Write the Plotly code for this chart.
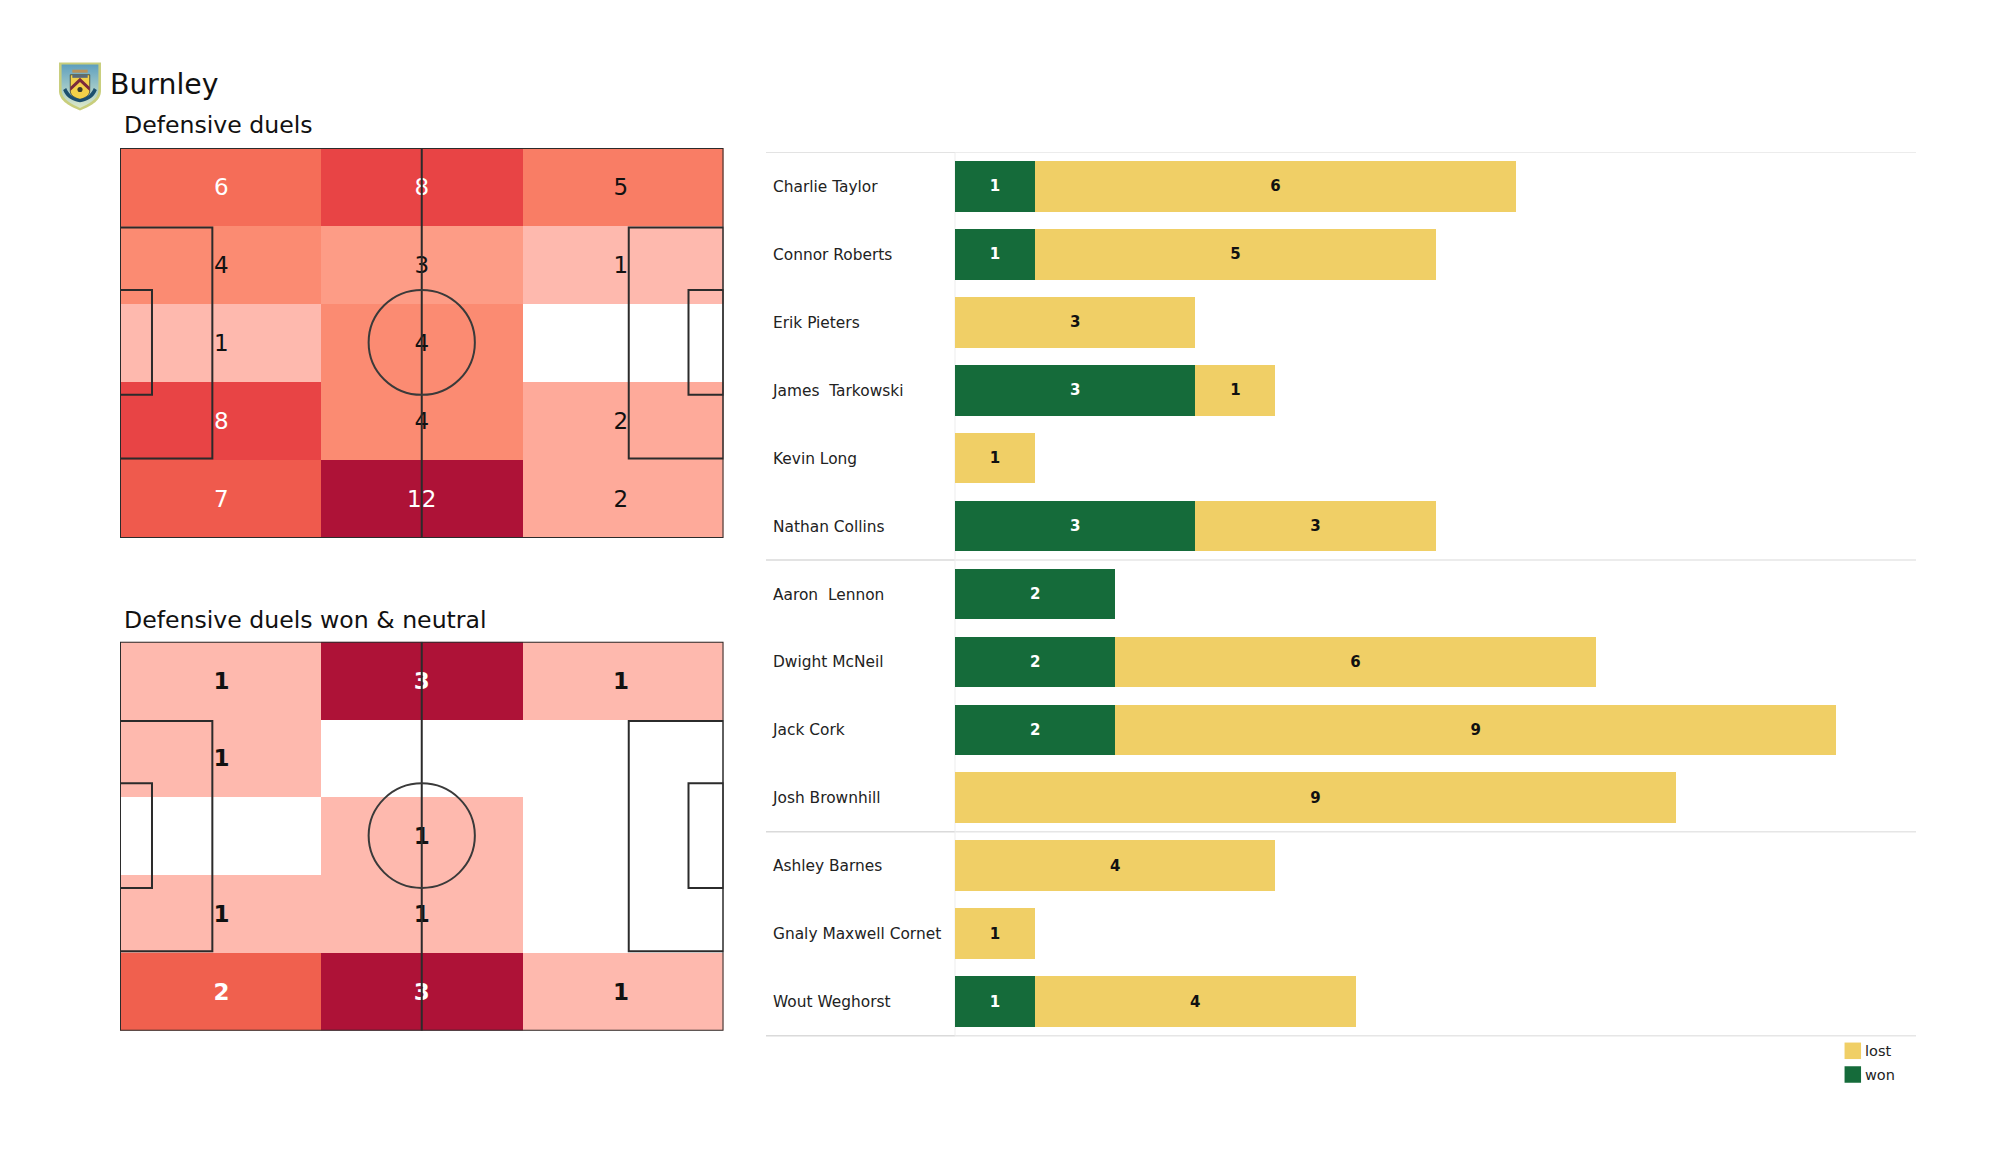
import base64
import plotly.graph_objects as go

W, H = 2000, 1175

# ---------- data ----------
players = ["Charlie Taylor", "Connor Roberts", "Erik Pieters", "James  Tarkowski", "Kevin Long",
           "Nathan Collins", "Aaron  Lennon", "Dwight McNeil", "Jack Cork", "Josh Brownhill",
           "Ashley Barnes", "Gnaly Maxwell Cornet", "Wout Weghorst"]
won = [1, 1, None, 3, None, 3, 2, 2, 2, None, None, None, 1]
lost = [6, 5, 3, 1, 1, 3, None, 6, 9, 9, 4, 1, 4]
duels = [[6, 8, 5], [4, 3, 1], [1, 4, 0], [8, 4, 2], [7, 12, 2]]
duels_won = [[1, 3, 1], [1, 0, 0], [0, 1, 0], [1, 1, 0], [2, 3, 1]]
separators_after = [-1, 5, 9, 12]

GOLD, GREEN = "#F0CF66", "#156B3A"
LINE = "#2b2b2b"
FONT = "DejaVu Sans"


def fx(px):
    return px / W


def fy(py):
    return 1 - py / H


scale1 = [[0, "#FFFFFF"], [1/12, "#FEB9AE"], [2/12, "#FEAA9A"], [3/12, "#FD9C86"], [4/12, "#FB8B72"],
          [5/12, "#F97D65"], [6/12, "#F56D58"], [7/12, "#EF5A4D"], [8/12, "#E84445"], [1, "#AE1237"]]
scale2 = [[0, "#FFFFFF"], [1/3, "#FEB9AE"], [2/3, "#F0604E"], [1, "#AE1237"]]

fig = go.Figure()

# ---------- pitches ----------
x_edges = [0, 33.4, 66.4, 100]
y_edges = [0, 20, 40, 60, 80, 100]
x_mid = [16.8, 50, 83.0]
y_mid = [10.6, 30.6, 50.6, 70.6, 90.6]


def pitch(z, scale, zmax, xa, ya, white_from, bold):
    fig.add_trace(go.Heatmap(z=z, x=x_edges, y=y_edges, colorscale=scale, zmin=0, zmax=zmax,
                             showscale=False, hoverinfo="skip", xaxis=xa, yaxis=ya))
    xs, ys, ts, cs = [], [], [], []
    for r, row in enumerate(z):
        for c, v in enumerate(row):
            if v:
                xs.append(x_mid[c]); ys.append(y_mid[r]); ts.append(str(v))
                cs.append("#FFFFFF" if v >= white_from else "#111111")
    fig.add_trace(go.Scatter(x=xs, y=ys, text=ts, mode="text", textposition="middle center",
                             textfont=dict(family=FONT, size=23, color=cs,
                                           weight="bold" if bold else "normal"),
                             xaxis=xa, yaxis=ya, hoverinfo="skip", showlegend=False))
    ln = dict(color=LINE, width=2)
    rects = [(0, 0, 100, 100), (0, 20.4, 15.3, 79.6), (84.3, 20.4, 100, 79.6),
             (0, 36.4, 5.3, 63.3), (94.2, 36.4, 100, 63.3)]
    for x0, y0, x1, y1 in rects:
        fig.add_shape(type="rect", x0=x0, y0=y0, x1=x1, y1=y1, xref=xa, yref=ya, line=ln, layer="above")
    fig.add_shape(type="line", x0=50, x1=50, y0=0, y1=100, xref=xa, yref=ya, line=ln, layer="above")
    fig.add_shape(type="circle", x0=41.2, x1=58.8, y0=36.4, y1=63.3, xref=xa, yref=ya,
                  line=dict(color="#3a3a3a", width=2), layer="above")


pitch(duels, scale1, 12, "x", "y", 6, False)
pitch(duels_won, scale2, 3, "x2", "y2", 2, True)

# ---------- bars ----------
rows = list(range(len(players)))
fig.add_trace(go.Bar(y=rows, x=won, name="won", orientation="h", width=0.747, marker=dict(color=GREEN, line_width=0),
                     text=won, textposition="inside", insidetextanchor="middle", textangle=0,
                     constraintext="none",
                     insidetextfont=dict(family=FONT, size=15, color="#FFFFFF", weight="bold"),
                     xaxis="x3", yaxis="y3", showlegend=False))
fig.add_trace(go.Bar(y=rows, x=lost, name="lost", orientation="h", width=0.747, marker=dict(color=GOLD, line_width=0),
                     text=lost, textposition="inside", insidetextanchor="middle", textangle=0,
                     constraintext="none",
                     insidetextfont=dict(family=FONT, size=15, color="#111111", weight="bold"),
                     xaxis="x3", yaxis="y3", showlegend=False))

X0, UNIT = 955, 80.1
ROW_TOP, ROW = 152.3, 67.95
x_at = lambda px: (px - X0) / UNIT
y_at = lambda py: (py - ROW_TOP) / ROW - 0.5

# player names, left aligned
fig.add_trace(go.Scatter(x=[x_at(773)] * len(players), y=[r + 0.025 for r in rows], text=players, mode="text",
                         textposition="middle right", cliponaxis=False,
                         textfont=dict(family=FONT, size=15.4, color="#222222"),
                         xaxis="x3", yaxis="y3", hoverinfo="skip", showlegend=False))

# separators
for s in separators_after:
    fig.add_shape(type="line", xref="x3", yref="y3", x0=x_at(766), x1=0, y0=s + 0.5, y1=s + 0.5,
                  line=dict(color="#DADADA", width=1.5), layer="below")
    fig.add_shape(type="line", xref="x3", yref="y3", x0=0, x1=x_at(1916), y0=s + 0.5, y1=s + 0.5,
                  line=dict(color="#E6E6E6", width=1.5), layer="below")
fig.add_shape(type="line", xref="x3", yref="y3", x0=0, x1=0, y0=-0.5, y1=12.5,
              line=dict(color="#EDEDED", width=1), layer="below")

# legend
for name, colour, py in [("lost", GOLD, 1050.8), ("won", GREEN, 1074.5)]:
    fig.add_trace(go.Scatter(x=[x_at(1852.8)], y=[y_at(py)], mode="markers", cliponaxis=False,
                             marker=dict(symbol="square", size=16.5, color=colour),
                             xaxis="x3", yaxis="y3", hoverinfo="skip", showlegend=False))
    fig.add_trace(go.Scatter(x=[x_at(1865)], y=[y_at(py + 1.5)], text=[name], mode="text",
                             textposition="middle right", cliponaxis=False,
                             textfont=dict(family=FONT, size=14.5, color="#222222"),
                             xaxis="x3", yaxis="y3", hoverinfo="skip", showlegend=False))

# ---------- titles ----------
for txt, px, py, size in [("Burnley", 107.5, 84, 28.3), ("Defensive duels", 121.5, 125, 23.6),
                          ("Defensive duels won & neutral", 121.5, 620, 23.6)]:
    fig.add_annotation(text=txt, x=fx(px), y=fy(py), xref="paper", yref="paper", showarrow=False,
                       xanchor="left", yanchor="middle",
                       font=dict(family=FONT, size=size, color="#111111"))

# ---------- crest ----------
crest = """<svg xmlns="http://www.w3.org/2000/svg" width="86" height="98" viewBox="0 0 86 98">
<defs><linearGradient id="g" x1="0" y1="0" x2="0" y2="1">
<stop offset="0" stop-color="#5E9FBE"/><stop offset="0.5" stop-color="#9CC6C8"/><stop offset="1" stop-color="#DCE8C8"/></linearGradient>
<filter id="b"><feGaussianBlur stdDeviation="0.9"/></filter></defs>
<g filter="url(#b)">
<path d="M2 2H84V58C84 78 60 90 43 96C26 90 2 78 2 58Z" fill="#C8CE7C"/>
<path d="M7 6H79V57C79 74 58 85 43 91C28 85 7 74 7 57Z" fill="url(#g)"/>
<path d="M28 22H58V16H28Z" fill="#B9925A"/>
<path d="M24 26H62V58C62 68 50 72 43 75C36 72 24 68 24 58Z" fill="#F2D04A" stroke="#3A3A2A" stroke-width="1.5"/>
<path d="M24 50L43 32L62 50V58L43 40L24 58Z" fill="#7A2A3A"/>
<circle cx="43" cy="55" r="5" fill="#3A3A2A"/>
<rect x="28" y="26" width="30" height="6" fill="#5A6A7A"/>
<path d="M10 56C16 72 30 78 43 80C56 78 70 72 76 56L70 52C64 66 54 72 43 73C32 72 22 66 16 52Z" fill="#1D4F6E"/>
</g></svg>"""
src = "data:image/svg+xml;base64," + base64.b64encode(crest.encode()).decode()
fig.add_layout_image(source=src, xref="paper", yref="paper", x=fx(58), y=fy(61.5), sizex=fx(44), sizey=50 / H,
                     xanchor="left", yanchor="top", sizing="stretch", layer="above")

# ---------- layout ----------
hidden = dict(visible=False, fixedrange=True)
fig.update_layout(
    width=W, height=H, margin=dict(l=0, r=0, t=0, b=0), autosize=False,
    paper_bgcolor="#FFFFFF", plot_bgcolor="#FFFFFF", showlegend=False, barmode="stack", bargap=0.25,
    xaxis=dict(domain=[fx(120), fx(723.5)], range=[0, 100], **hidden),
    yaxis=dict(domain=[fy(538), fy(148)], range=[100, 0], **hidden),
    xaxis2=dict(domain=[fx(120), fx(723.5)], range=[0, 100], **hidden),
    yaxis2=dict(domain=[fy(1030.7), fy(641.7)], range=[100, 0], **hidden),
    xaxis3=dict(domain=[fx(766), fx(1916)], range=[x_at(766), x_at(1916)], **hidden),
    yaxis3=dict(domain=[fy(1100), fy(ROW_TOP)], range=[y_at(1100), -0.5], **hidden),
)

fig.write_html("out.html", post_script="document.body.style.margin='0';document.body.style.overflow='hidden';",
               config=dict(displayModeBar=False))
